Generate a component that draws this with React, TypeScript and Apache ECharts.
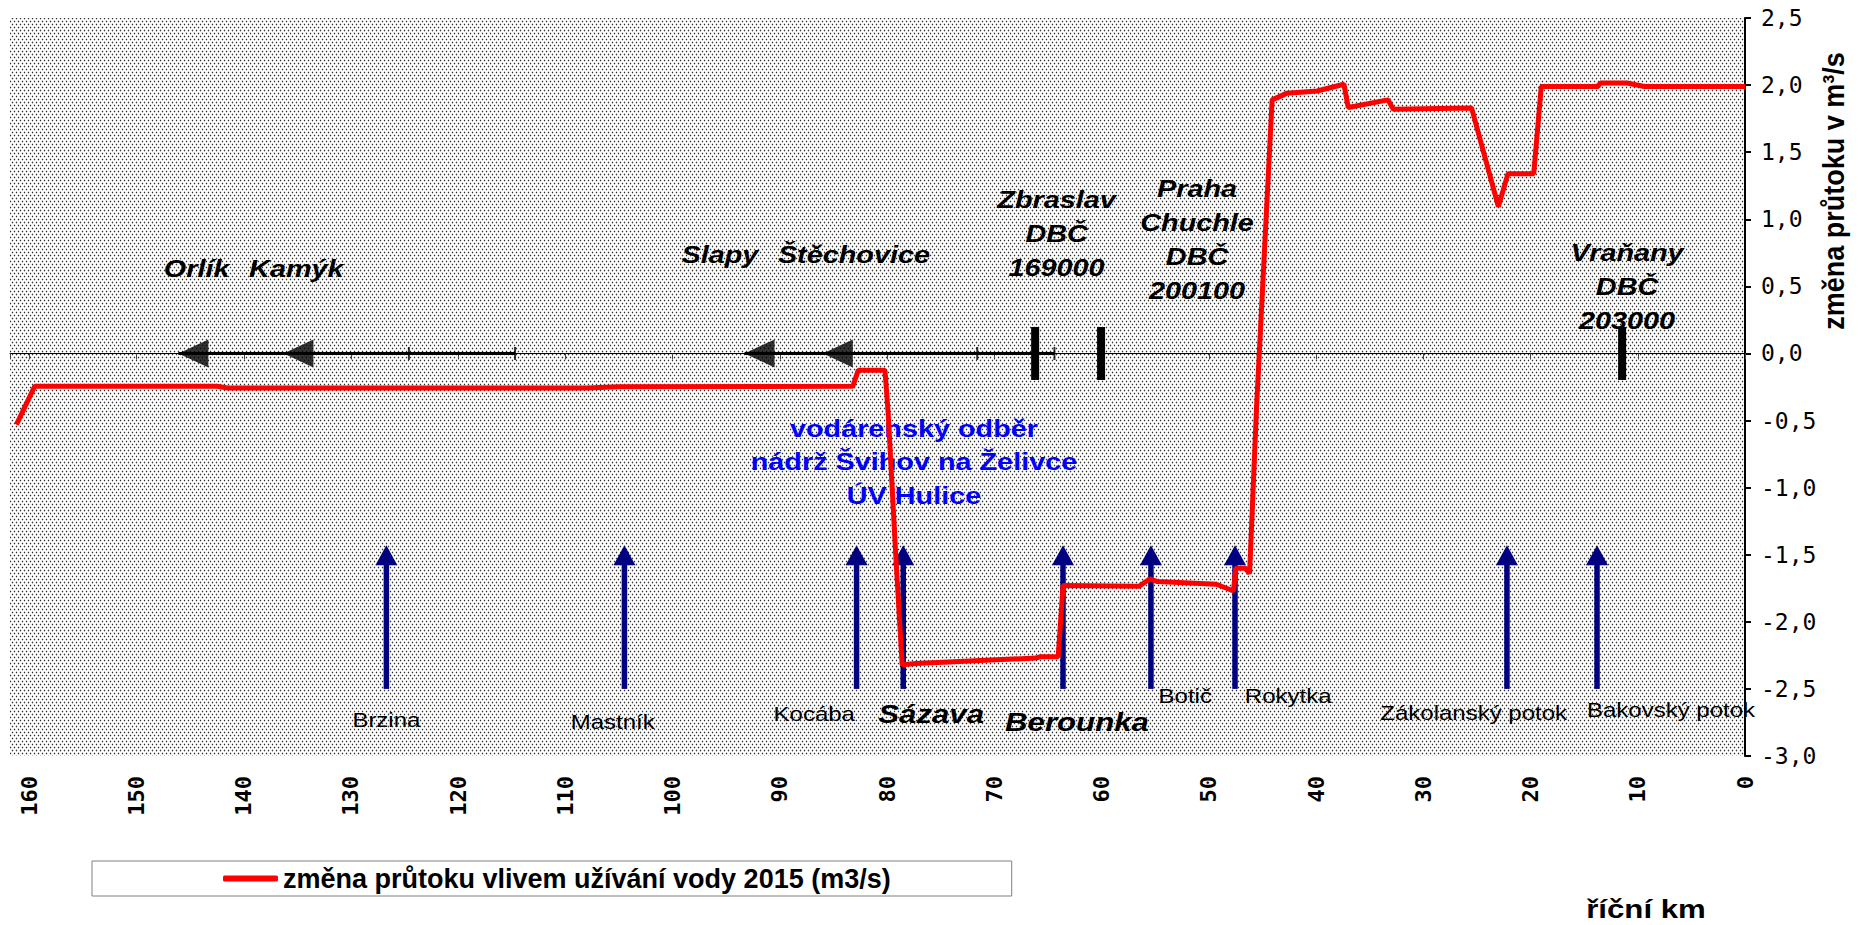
import React, { useEffect, useRef } from "react";
import * as echarts from "echarts";

// ---------- data ----------
const seriesName = "změna průtoku vlivem užívání vody 2015 (m3/s)";

// river km (x) and change of discharge in m3/s (y)
const riverKm = [
  161.2, 159.5, 142.5, 141.5, 108.0, 105.0, 83.2, 82.7, 80.2, 79.9, 79.2, 78.6,
  77.3, 66.1, 65.7, 64.05, 63.6, 56.5, 55.5, 54.8, 49.3, 47.7, 47.5, 46.6, 46.2,
  45.55, 44.1, 42.7, 39.9, 38.7, 37.4, 37.0, 33.3, 32.8, 25.5, 23.0, 22.1, 19.7,
  19.0, 13.7, 13.5, 11.0, 9.4, 0,
];
const flowChange = [
  -0.53, -0.245, -0.245, -0.257, -0.257, -0.248, -0.245, -0.126, -0.126, -0.45,
  -1.5, -2.32, -2.31, -2.27, -2.26, -2.26, -1.73, -1.735, -1.68, -1.7, -1.72,
  -1.77, -1.6, -1.6, -1.64, -0.4, 1.89, 1.94, 1.956, 1.98, 2.006, 1.833, 1.89,
  1.82, 1.83, 1.094, 1.34, 1.34, 1.99, 1.99, 2.016, 2.016, 1.99, 1.99,
];

// reservoirs (black lines on the zero line)
const reservoirStartKm = [146.1, 93.3];
const reservoirEndKm = [114.7, 64.4];
const damKm = [146.1, 136.3, 93.3, 86.0]; // Orlík, Kamýk, Slapy, Štěchovice
const reservoirTickKm = [124.6, 114.7, 71.6, 64.4];
const gaugeKm = [66.2, 60.05, 11.46]; // Zbraslav, Praha-Chuchle, Vraňany

// tributaries (blue arrows)
const tributaryKm = [126.7, 104.5, 82.85, 78.5, 63.6, 55.4, 47.56, 22.2, 13.8];
const arrowBase = -2.5;
const arrowTip = -1.43;

// annotations: text, km, value, kind
const annoText = [
  "Orlík",
  "Kamýk",
  "Slapy",
  "Štěchovice",
  "Zbraslav\nDBČ\n169000",
  "Praha\nChuchle\nDBČ\n200100",
  "Vraňany\nDBČ\n203000",
  "vodárenský odběr\nnádrž Švihov na Želivce\nÚV Hulice",
  "Brzina",
  "Mastník",
  "Kocába",
  "Sázava",
  "Berounka",
  "Botič",
  "Rokytka",
  "Zákolanský potok",
  "Bakovský potok",
];
const annoKm = [144.4, 135.1, 95.6, 83.1, 64.2, 51.1, 11.0, 77.5, 126.7, 105.6, 86.8, 75.9, 62.3, 52.2, 42.6, 25.3, 6.9];
const annoVal = [0.632, 0.632, 0.736, 0.736, 0.892, 0.847, 0.498, -0.81, -2.734, -2.749, -2.689, -2.689, -2.749, -2.556, -2.556, -2.682, -2.66];
const annoKind = ["dam", "dam", "dam", "dam", "dam", "dam", "dam", "blue", "trib", "trib", "trib", "big", "big", "trib", "trib", "trib", "trib"];

const yTicks = { min: -3, max: 2.5, interval: 0.5 };
const xTicks = { min: 0, max: 161.8, interval: 10 };

const SANS = '"Liberation Sans", Arial, sans-serif';
const MONO = '"DejaVu Sans Mono", monospace';

const kindStyle: Record<string, { font: string; fill: string; lh: number }> = {
  dam: { font: `italic bold 24px ${SANS}`, fill: "#000", lh: 34 },
  blue: { font: `bold 24px ${SANS}`, fill: "#0000ff", lh: 33.5 },
  trib: { font: `normal 20px ${SANS}`, fill: "#000", lh: 24 },
  big: { font: `italic bold 26px ${SANS}`, fill: "#000", lh: 30 },
};

function makePattern(): string {
  const cv = document.createElement("canvas");
  cv.width = 4;
  cv.height = 6;
  const ctx = cv.getContext("2d")!;
  ctx.fillStyle = "#ffffff";
  ctx.fillRect(0, 0, 4, 6);
  const dot = (x: number, y: number) => {
    ctx.fillStyle = "#c4c4c4";
    [
      [x, y - 1],
      [x, y + 1],
    ].forEach(([a, b]) => ctx.fillRect((a + 4) % 4, (b + 6) % 6, 1, 1));
    ctx.fillStyle = "#dcdcdc";
    [
      [x - 1, y],
      [x + 1, y],
    ].forEach(([a, b]) => ctx.fillRect((a + 4) % 4, (b + 6) % 6, 1, 1));
    ctx.fillStyle = "#2e2e2e";
    ctx.fillRect(x, y, 1, 1);
  };
  dot(0, 0);
  dot(2, 3);
  return cv.toDataURL();
}

export default function App() {
  const ref = useRef<HTMLDivElement>(null);

  useEffect(() => {
    if (!ref.current) return;
    const chart = echarts.init(ref.current, undefined, { renderer: "svg" });
    const patternUrl = makePattern();

    const commonX = {
      type: "value" as const,
      min: xTicks.min,
      max: xTicks.max,
      interval: xTicks.interval,
      inverse: true,
      splitLine: { show: false },
    };

    const option: any = {
      animation: false,
      backgroundColor: "#ffffff",
      grid: {
        left: 10,
        right: 113,
        top: 18,
        bottom: 169,
        show: true,
        borderWidth: 0,
        backgroundColor: { image: patternUrl, repeat: "repeat", imageWidth: 4, imageHeight: 6 },
      },
      legend: {
        show: true,
        data: [seriesName],
        left: 92,
        top: 861,
        padding: [4, 121, 4, 131],
        borderColor: "#808080",
        borderWidth: 1,
        backgroundColor: "#ffffff",
        itemWidth: 55,
        itemHeight: 6,
        icon: "roundRect",
        selectedMode: false,
        textStyle: { fontFamily: SANS, fontWeight: "bold", fontSize: 27, color: "#000" },
      },
      xAxis: [
        {
          ...commonX,
          position: "bottom",
          axisLine: { show: false, onZero: false },
          axisTick: { show: false },
          axisLabel: {
            rotate: 90,
            margin: 20,
            fontFamily: MONO,
            fontWeight: "bold",
            fontSize: 22,
            color: "#000",
            showMaxLabel: false,
          },
        },
        {
          ...commonX,
          position: "bottom",
          axisLine: { show: true, onZero: true, onZeroAxisIndex: 0, lineStyle: { color: "#000", width: 1 } },
          axisTick: { show: true, length: 6, lineStyle: { color: "#444", width: 1 } },
          axisLabel: { show: false },
        },
      ],
      yAxis: {
        type: "value",
        position: "right",
        min: yTicks.min,
        max: yTicks.max,
        interval: yTicks.interval,
        splitLine: { show: false },
        axisLine: { show: true, onZero: false, lineStyle: { color: "#000", width: 2 } },
        axisTick: { show: true, length: 6, lineStyle: { color: "#000", width: 2 } },
        axisLabel: {
          margin: 16,
          fontFamily: MONO,
          fontSize: 23,
          color: "#000",
          formatter: (v: number) => v.toFixed(1).replace(".", ","),
        },
      },
      graphic: [
        {
          type: "text",
          x: 1834,
          y: 191,
          rotation: Math.PI / 2,
          scaleY: 1.1,
          style: {
            text: "změna průtoku v m³/s",
            font: `bold 27px ${SANS}`,
            fill: "#000",
            align: "center",
            verticalAlign: "middle",
          },
        },
        {
          type: "text",
          x: 1646,
          y: 909,
          scaleX: 1.2,
          style: {
            text: "říční km",
            font: `bold 26px ${SANS}`,
            fill: "#000",
            align: "center",
            verticalAlign: "middle",
          },
        },
      ],
      series: [
        // reservoir lines
        ...reservoirStartKm.map((s, i) => ({
          type: "line",
          silent: true,
          xAxisIndex: 0,
          z: 3,
          showSymbol: false,
          lineStyle: { color: "#000", width: 3 },
          data: [
            [s, 0],
            [reservoirEndKm[i], 0],
          ],
        })),
        {
          type: "scatter",
          silent: true,
          z: 4,
          symbol: "rect",
          symbolSize: [2, 13],
          itemStyle: { color: "#000" },
          data: reservoirTickKm.map((k) => [k, 0]),
        },
        {
          type: "scatter",
          silent: true,
          z: 4,
          symbol: "path://M0,5L10,0L10,10Z",
          symbolSize: [30, 28],
          symbolOffset: [15, 0],
          itemStyle: { color: "#000" },
          data: damKm.map((k) => [k, 0]),
        },
        {
          type: "scatter",
          silent: true,
          z: 4,
          symbol: "rect",
          symbolSize: [8, 53],
          itemStyle: { color: "#000", opacity: 1 },
          data: gaugeKm.map((k) => [k, 0]),
        },
        // tributary arrows
        {
          type: "custom",
          silent: true,
          z: 5,
          data: tributaryKm.map((k) => [k, arrowBase, arrowTip]),
          renderItem: (_p: any, api: any) => {
            const base = api.coord([api.value(0), api.value(1)]);
            const tip = api.coord([api.value(0), api.value(2)]);
            const x = base[0];
            return {
              type: "group",
              children: [
                {
                  type: "line",
                  shape: { x1: x, y1: base[1], x2: x, y2: tip[1] + 18 },
                  style: { stroke: "#000080", lineWidth: 5.5 },
                },
                {
                  type: "polygon",
                  shape: {
                    points: [
                      [x - 11, tip[1] + 20],
                      [x + 11, tip[1] + 20],
                      [x, tip[1]],
                    ],
                  },
                  style: { fill: "#000080" },
                },
              ],
            };
          },
        },
        // annotations
        {
          type: "custom",
          silent: true,
          z: 6,
          data: annoKm.map((k, i) => [k, annoVal[i], i]),
          renderItem: (_p: any, api: any) => {
            const i = api.value(2);
            const p = api.coord([api.value(0), api.value(1)]);
            const st = kindStyle[annoKind[i]];
            return {
              type: "text",
              x: p[0],
              y: p[1],
              scaleX: 1.2,
              style: {
                text: annoText[i],
                font: st.font,
                fill: st.fill,
                lineHeight: st.lh,
                align: "center",
                verticalAlign: "middle",
              },
            };
          },
        },
        // main red line
        {
          name: seriesName,
          type: "line",
          silent: true,
          z: 10,
          showSymbol: false,
          itemStyle: { color: "#ff0000" },
          lineStyle: { color: "#ff0000", width: 5 },
          data: riverKm.map((k, i) => [k, flowChange[i]]),
        },
      ],
    };

    chart.setOption(option);
    return () => chart.dispose();
  }, []);

  return (
    <div
      ref={ref}
      style={{ position: "absolute", left: 0, top: 0, width: 1858, height: 925, background: "#fff" }}
    />
  );
}
